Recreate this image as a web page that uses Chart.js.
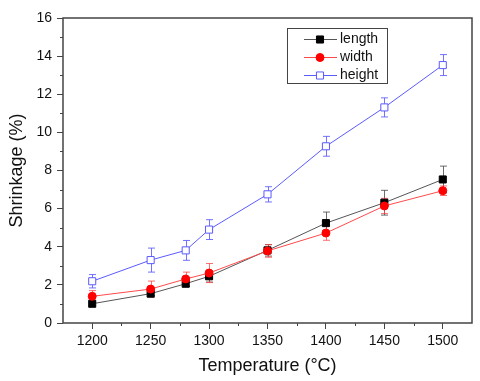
<!DOCTYPE html>
<html>
<head>
<meta charset="utf-8">
<script src="https://cdn.jsdelivr.net/npm/chart.js@4/dist/chart.umd.min.js"></script>
<style>
  html, body { margin: 0; padding: 0; background: #fff; }
  #wrap { width: 480px; height: 381px; }
</style>
</head>
<body>
<div id="wrap"><canvas id="chart"></canvas></div>
<script>
const temps = [1200, 1250, 1280, 1300, 1350, 1400, 1450, 1500];
const lengthVals = [1.01, 1.54, 2.06, 2.45, 3.81, 5.24, 6.31, 7.53];
const lengthErr = [0.1, 0.1, 0.15, 0.3, 0.3, 0.58, 0.65, 0.7];
const widthVals = [1.40, 1.78, 2.31, 2.62, 3.78, 4.72, 6.14, 6.94];
const widthErr = [0.3, 0.42, 0.36, 0.5, 0.33, 0.38, 0.4, 0.25];
const heightVals = [2.19, 3.30, 3.81, 4.90, 6.75, 9.27, 11.31, 13.53];
const heightErr = [0.35, 0.63, 0.52, 0.52, 0.4, 0.52, 0.5, 0.55];
const xTicks = [1200, 1250, 1300, 1350, 1400, 1450, 1500];
const xMinor = [1225, 1275, 1325, 1375, 1425, 1475];
const yTicks = [0, 2, 4, 6, 8, 10, 12, 14, 16];
const yMinor = [1, 3, 5, 7, 9, 11, 13, 15];

const FONT = "'Liberation Sans', Arial, sans-serif";
const AXIS = "#444";

function pts(vals) {
  return temps.map((t, i) => ({ x: t, y: vals[i] }));
}

// error bars drawn under the markers
const errorBars = {
  id: "errorBars",
  beforeDatasetsDraw(chart) {
    const ctx = chart.ctx;
    const xs = chart.scales.x, ys = chart.scales.y;
    chart.data.datasets.forEach((ds) => {
      ctx.save();
      ctx.strokeStyle = ds.errColor;
      ctx.lineWidth = 1;
      ds.err.forEach((e, i) => {
        const x = Math.round(xs.getPixelForValue(temps[i])) + 0.5;
        const y1 = ys.getPixelForValue(ds.data[i].y + e);
        const y2 = ys.getPixelForValue(ds.data[i].y - e);
        ctx.beginPath();
        ctx.moveTo(x, y1); ctx.lineTo(x, y2);
        ctx.moveTo(x - 3.5, y1); ctx.lineTo(x + 3.5, y1);
        ctx.moveTo(x - 3.5, y2); ctx.lineTo(x + 3.5, y2);
        ctx.stroke();
      });
      ctx.restore();
    });
  }
};

// frame, minor ticks and legend box
const frame = {
  id: "frame",
  afterDraw(chart) {
    const ctx = chart.ctx;
    const a = chart.chartArea;
    const xs = chart.scales.x, ys = chart.scales.y;
    ctx.save();
    ctx.strokeStyle = AXIS;
    ctx.lineWidth = 1.5;
    ctx.strokeRect(a.left, a.top, a.right - a.left, a.bottom - a.top);
    ctx.lineWidth = 1;
    ctx.beginPath();
    xMinor.forEach((v) => {
      const x = Math.round(xs.getPixelForValue(v)) + 0.5;
      ctx.moveTo(x, a.bottom); ctx.lineTo(x, a.bottom + 3);
    });
    yMinor.forEach((v) => {
      const y = Math.round(ys.getPixelForValue(v)) + 0.5;
      ctx.moveTo(a.left, y); ctx.lineTo(a.left - 3, y);
    });
    ctx.stroke();

    // legend
    const lx = 287, ly = 28, lw = 100, lh = 55;
    ctx.fillStyle = "#fff";
    ctx.fillRect(lx, ly, lw, lh);
    ctx.strokeStyle = AXIS;
    ctx.strokeRect(lx + 0.5, ly + 0.5, lw, lh);
    const rows = [39.5, 57.5, 75.5];
    chart.data.datasets.forEach((ds, i) => {
      const y = rows[i];
      ctx.strokeStyle = ds.borderColor;
      ctx.lineWidth = 1;
      ctx.beginPath();
      ctx.moveTo(304, y); ctx.lineTo(337, y);
      ctx.stroke();
      ctx.fillStyle = ds.pointBackgroundColor;
      ctx.strokeStyle = ds.pointBorderColor;
      ctx.lineWidth = ds.pointBorderWidth;
      ctx.beginPath();
      if (ds.pointStyle === "circle") {
        ctx.arc(320, y, ds.pointRadius, 0, Math.PI * 2);
      } else {
        const s = ds.pointRadius * Math.SQRT1_2;
        ctx.rect(320 - s, y - s, 2 * s, 2 * s);
      }
      ctx.fill();
      ctx.stroke();
      ctx.fillStyle = "#111";
      ctx.font = "14px " + FONT;
      ctx.textBaseline = "middle";
      ctx.fillText(ds.label, 340, y);
    });
    ctx.restore();
  }
};

new Chart(document.getElementById("chart"), {
  type: "line",
  data: {
    datasets: [
      {
        label: "length",
        data: pts(lengthVals),
        err: lengthErr,
        errColor: "rgba(60,60,60,0.75)",
        borderColor: "#555",
        borderWidth: 1,
        pointStyle: "rect",
        pointRadius: 5,
        pointBorderWidth: 1,
        pointBackgroundColor: "#000",
        pointBorderColor: "#000",
        order: 3
      },
      {
        label: "width",
        data: pts(widthVals),
        err: widthErr,
        errColor: "rgba(255,60,60,0.75)",
        borderColor: "#ff4a4a",
        borderWidth: 1,
        pointStyle: "circle",
        pointRadius: 4,
        pointBorderWidth: 1,
        pointBackgroundColor: "#ff0000",
        pointBorderColor: "#ff0000",
        order: 2
      },
      {
        label: "height",
        data: pts(heightVals),
        err: heightErr,
        errColor: "rgba(90,90,255,0.85)",
        borderColor: "#5a5aff",
        borderWidth: 1,
        pointStyle: "rect",
        pointRadius: 5,
        pointBorderWidth: 1,
        pointBackgroundColor: "#fff",
        pointBorderColor: "#5a5aff",
        order: 1
      }
    ]
  },
  options: {
    responsive: true,
    maintainAspectRatio: false,
    animation: false,
    layout: { padding: { top: 18, right: 8, left: 0, bottom: 0 } },
    plugins: { legend: { display: false }, tooltip: { enabled: false } },
    scales: {
      x: {
        type: "linear",
        min: 1175,
        max: 1525,
        afterBuildTicks: (s) => { s.ticks = xTicks.map((v) => ({ value: v })); },
        afterFit: (s) => { s.height = 58; },
        border: { display: false },
        grid: { drawOnChartArea: false, drawTicks: true, tickLength: 6, color: AXIS },
        ticks: {
          color: "#111",
          font: { family: FONT, size: 14 },
          padding: 4,
          maxRotation: 0,
          callback: (v) => String(v)
        },
        title: {
          display: true,
          text: "Temperature (°C)",
          color: "#111",
          font: { family: FONT, size: 18 },
          padding: { top: 0, bottom: 4 }
        }
      },
      y: {
        min: 0,
        max: 16,
        afterBuildTicks: (s) => { s.ticks = yTicks.map((v) => ({ value: v })); },
        afterFit: (s) => { s.width = 63; },
        border: { display: false },
        grid: { drawOnChartArea: false, drawTicks: true, tickLength: 6, color: AXIS },
        ticks: { color: "#111", font: { family: FONT, size: 14 }, padding: 5 },
        title: {
          display: true,
          text: "Shrinkage (%)",
          color: "#111",
          font: { family: FONT, size: 18 },
          padding: { top: 6, bottom: 0 }
        }
      }
    }
  },
  plugins: [errorBars, frame]
});
</script>
</body>
</html>
